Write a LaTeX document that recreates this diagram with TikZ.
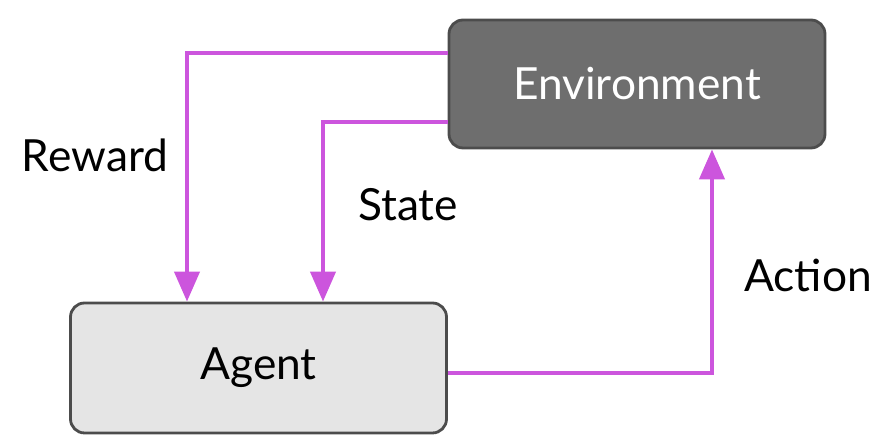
\documentclass[tikz,border=0pt]{standalone}
\usepackage{fontspec}
\setmainfont{Lato}
\usepackage{tikz}
\usetikzlibrary{arrows.meta}

\definecolor{flowpink}{RGB}{204,85,221}

\tikzset{
	box/.style={draw=black!70, line width=0.8pt, rounded corners=0.14cm, minimum width=3.76cm, minimum height=1.28cm, font=\fontsize{12.6}{15}\selectfont},
	flow/.style={draw=flowpink, line width=1.2pt, -{Triangle[width=0.25cm, length=0.3cm]}},
	lbl/.style={font=\fontsize{12.6}{15}\selectfont}
}

\begin{document}
\begin{tikzpicture}[scale=1.0]
	\useasboundingbox (0,0) rectangle (8.94,4.48);
	\node[box, fill=black!57, text=white] (env) at (6.37,3.64) {Environment};
	\node[box, fill=black!10, minimum height=1.30cm] (agent) at (2.585,0.80) {Agent};

	\coordinate (rw) at (1.87,3.95);
	\coordinate (st) at (3.23,3.26);
	\coordinate (ac) at (7.12,0.75);

	\draw[flow] (env.west |- rw) -| (agent.north -| rw);
	\draw[flow] (env.west |- st) -| (agent.north -| st);
	\draw[flow] (agent.east |- ac) -| (env.south -| ac);

	\node[lbl] (reward) at (0.95,2.93) {Reward};
	\node[lbl] (state) at (4.08,2.43) {State};
	\node[lbl] (action) at (8.08,1.73) {Action};
\end{tikzpicture}
\end{document}
